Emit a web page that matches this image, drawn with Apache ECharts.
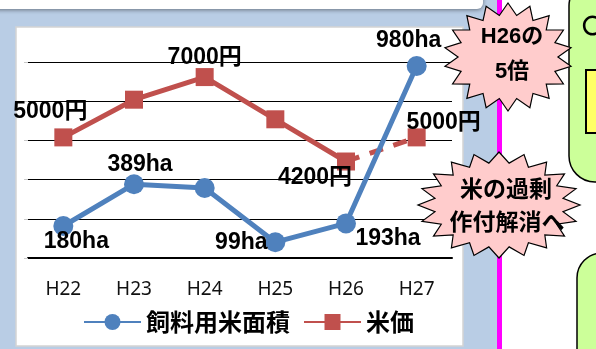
<!DOCTYPE html>
<html>
<head>
<meta charset="utf-8">
<script src="https://cdn.jsdelivr.net/npm/echarts@6.0.0/dist/echarts.min.js"></script>
<style>
  html, body { margin: 0; padding: 0; background: #fff; }
  #chart { width: 596px; height: 349px; }
</style>
</head>
<body>
<div id="chart"></div>
<script>
// data
const years = ['H22', 'H23', 'H24', 'H25', 'H26', 'H27']
const feedRiceArea = [180, 389, 370, 99, 193, 980]       // ha
const ricePrice = [5000, 6250, 7000, 5600, 4200, 5000]   // 円
// left (hidden) axis: 5 grid bands
const areaMin = 20
const areaMax = 1000
const areaStep = 196

// where the value labels sit (offset from the marker), null = no label
const areaLabelAt = [[13, 16], [6, -20], null, [-34, 0], [42, 15], [-8, -25]]
const priceLabelAt = [[-13, -26], null, [0, -19], null, [-31, 16], [27, -15]]

const numFont = "'Liberation Sans', 'Noto Sans CJK JP', sans-serif"
const jpFont = "'Noto Sans CJK JP', sans-serif"

function withLabels (values, at, unit) {
  return values.map((v, i) => {
    if (v === null) return null
    const item = { value: v }
    if (at[i]) {
      item.label = {
        show: true,
        position: 'inside',
        offset: at[i],
        formatter: v + unit,
        fontFamily: numFont,
        fontSize: 23,
        fontWeight: 'bold',
        color: '#000'
      }
    }
    return item
  })
}

// jagged "explosion" shape
function star (cx, cy, rx, ry, n, k) {
  let pts = []
  for (let i = 0; i < n * 2; i++) {
    let a = Math.PI * i / n - Math.PI / 2
    let r = i % 2 === 0 ? 1 : k
    pts.push([cx + Math.cos(a) * rx * r, cy + Math.sin(a) * ry * r])
  }
  return pts
}

let priceSolid = withLabels(ricePrice.map((v, i) => i <= 4 ? v : null), priceLabelAt, '円')
let priceDashed = withLabels(ricePrice.map((v, i) => i >= 4 ? v : null), priceLabelAt.map((p, i) => i === 5 ? p : null), '円')
priceDashed[4].symbol = 'none'

let myChart = echarts.init(document.getElementById('chart'))
myChart.setOption({
  animation: false,
  backgroundColor: '#fff',
  textStyle: { fontFamily: jpFont },
  grid: { left: 28, right: 144, top: 62, bottom: 91, containLabel: false },
  legend: {
    data: ['飼料用米面積', '米価'],
    left: 78,
    top: 305,
    itemWidth: 57,
    itemHeight: 20,
    itemGap: 13,
    textStyle: { fontFamily: jpFont, fontSize: 24, fontWeight: 'bold', color: '#000' }
  },
  xAxis: {
    type: 'category',
    data: years,
    axisLine: { lineStyle: { color: '#000', width: 2 } },
    axisTick: { show: false },
    axisLabel: { margin: 22, fontFamily: "'Noto Sans', sans-serif", fontSize: 19, color: '#111' }
  },
  yAxis: [
    {
      type: 'value',
      min: areaMin,
      max: areaMax,
      interval: areaStep,
      axisLine: { show: false },
      axisTick: { show: true, length: 4, lineStyle: { color: '#c8c8c8' } },
      axisLabel: { show: false },
      splitLine: { lineStyle: { color: '#000', width: 1 } }
    },
    {
      type: 'value',
      min: 1000,
      max: 7500,
      show: false,
      splitLine: { show: false }
    }
  ],
  series: [
    {
      name: '飼料用米面積',
      type: 'line',
      z: 4,
      data: withLabels(feedRiceArea, areaLabelAt, 'ha'),
      symbol: 'circle',
      symbolSize: 20,
      itemStyle: { color: '#4f81bd' },
      lineStyle: { color: '#4f81bd', width: 5 }
    },
    {
      name: '米価',
      type: 'line',
      yAxisIndex: 1,
      z: 3,
      data: priceSolid,
      symbol: 'rect',
      symbolSize: 18,
      itemStyle: { color: '#c0504d' },
      lineStyle: { color: '#c0504d', width: 5 }
    },
    {
      name: '米価',
      type: 'line',
      yAxisIndex: 1,
      z: 3,
      data: priceDashed,
      symbol: 'rect',
      symbolSize: 18,
      itemStyle: { color: '#c0504d' },
      lineStyle: { color: '#c0504d', width: 5, type: [14, 11] }
    }
  ],
  graphic: [
    // slide background behind the chart panel
    { type: 'rect', z: -20, shape: { x: 0, y: 0, width: 500, height: 349 }, style: { fill: '#b9cde5' } },
    { type: 'rect', z: -19, shape: { x: -10, y: -10, width: 493, height: 19, r: 6 },
      style: { fill: '#fff', shadowBlur: 4, shadowColor: 'rgba(0,0,0,0.45)', shadowOffsetY: 1 } },
    { type: 'rect', z: -18, shape: { x: 16, y: 27, width: 447, height: 319 },
      style: { fill: '#fff', stroke: '#d4d4d4', lineWidth: 1.5 } },
    { type: 'rect', z: 50, shape: { x: 497, y: 0, width: 5, height: 349 }, style: { fill: '#ff00ff' } },
    // green boxes on the right edge
    { type: 'rect', z: 50, shape: { x: 569, y: -20, width: 60, height: 202, r: 26 },
      style: { fill: '#ccff99', stroke: '#000', lineWidth: 1.5 } },
    { type: 'rect', z: 51, shape: { x: 586, y: 70, width: 24, height: 63 },
      style: { fill: '#ffff66', stroke: '#000', lineWidth: 2 } },
    { type: 'text', z: 51, x: 582, y: 15, style: { text: '〇', font: 'bold 21px ' + jpFont, fill: '#000' } },
    { type: 'rect', z: 50, shape: { x: 577, y: 253, width: 50, height: 130, r: 26 },
      style: { fill: '#ccff99', stroke: '#000', lineWidth: 1.5 } },
    // callouts
    { type: 'polygon', z: 60, shape: { points: star(508, 57, 64, 54, 18, 0.78) },
      style: { fill: '#ffcccc', stroke: '#000', lineWidth: 1.2 } },
    { type: 'text', z: 61, x: 512, y: 37, style: { text: 'H26の', font: 'bold 22px ' + numFont, fill: '#000', align: 'center', verticalAlign: 'middle' } },
    { type: 'text', z: 61, x: 512, y: 72, style: { text: '5倍', font: 'bold 22px ' + numFont, fill: '#000', align: 'center', verticalAlign: 'middle' } },
    { type: 'polygon', z: 60, shape: { points: star(499, 205, 81, 53, 20, 0.8) },
      style: { fill: '#ffcccc', stroke: '#000', lineWidth: 1.2 } },
    { type: 'text', z: 61, x: 506, y: 188, style: { text: '米の過剰', font: 'bold 23px ' + jpFont, fill: '#000', align: 'center', verticalAlign: 'middle' } },
    { type: 'text', z: 61, x: 507, y: 221, style: { text: '作付解消へ', font: 'bold 23px ' + jpFont, fill: '#000', align: 'center', verticalAlign: 'middle' } }
  ]
})
</script>
</body>
</html>
